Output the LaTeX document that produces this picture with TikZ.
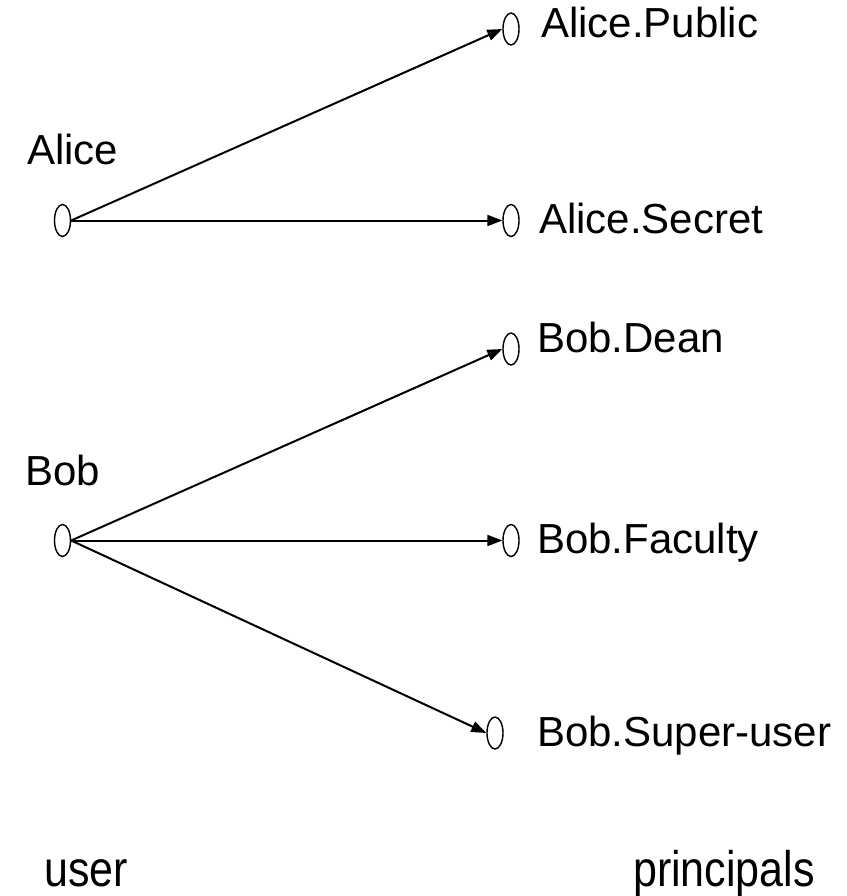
\documentclass[tikz,border=0pt]{standalone}
\usepackage{fontspec}
\setmainfont{Liberation Sans}
\usetikzlibrary{arrows.meta,shapes.geometric}

\begin{document}
\begin{tikzpicture}[x=1pt,y=-1pt,
  port/.style={draw,ellipse,line width=1.4pt,minimum width=16pt,minimum height=32pt,inner sep=0pt},
  label/.style={anchor=base west,inner sep=0pt,font=\fontsize{42}{50}\selectfont},
  axis/.style={anchor=base west,inner sep=0pt,font=\fontsize{50}{58}\selectfont,xscale=0.86},
  link/.style={line width=2pt,-{Triangle[length=15pt,width=11pt]}}]
\useasboundingbox (0,0) rectangle (846,896);

% users
\node[port] (alice) at (62.5,220.5) {};
\node[port] (bob)   at (62.5,540.5) {};
\node[label] (alicelbl) at (27,165) {Alice};
\node[label] (boblbl)   at (25,485) {Bob};

% principals
\node[port] (apub) at (511,29)  {};
\node[port] (asec) at (511,220.5) {};
\node[port] (bdean) at (511,349) {};
\node[port] (bfac) at (511,540.5) {};
\node[port] (bsup) at (495,733) {};

\node[label] (apublbl) at (541,38)  {Alice.Public};
\node[label] (aseclbl) at (539,233) {Alice.Secret};
\node[label] (bdeanlbl) at (537,352) {Bob.Dean};
\node[label] (bfaclbl) at (537,553) {Bob.Faculty};
\node[label] (bsuplbl) at (537,746) {Bob.Super-user};

% column captions
\node[axis] (usercap) at (44,886) {user};
\node[axis] (princap) at (633,886) {principals};

% delegation arrows
\draw[link] (alice.east) -- (apub.west);
\draw[link] (alice.east) -- (asec.west);
\draw[link] (bob.east) -- (bdean.west);
\draw[link] (bob.east) -- (bfac.west);
\draw[link] (bob.east) -- (bsup.west);
\end{tikzpicture}
\end{document}
